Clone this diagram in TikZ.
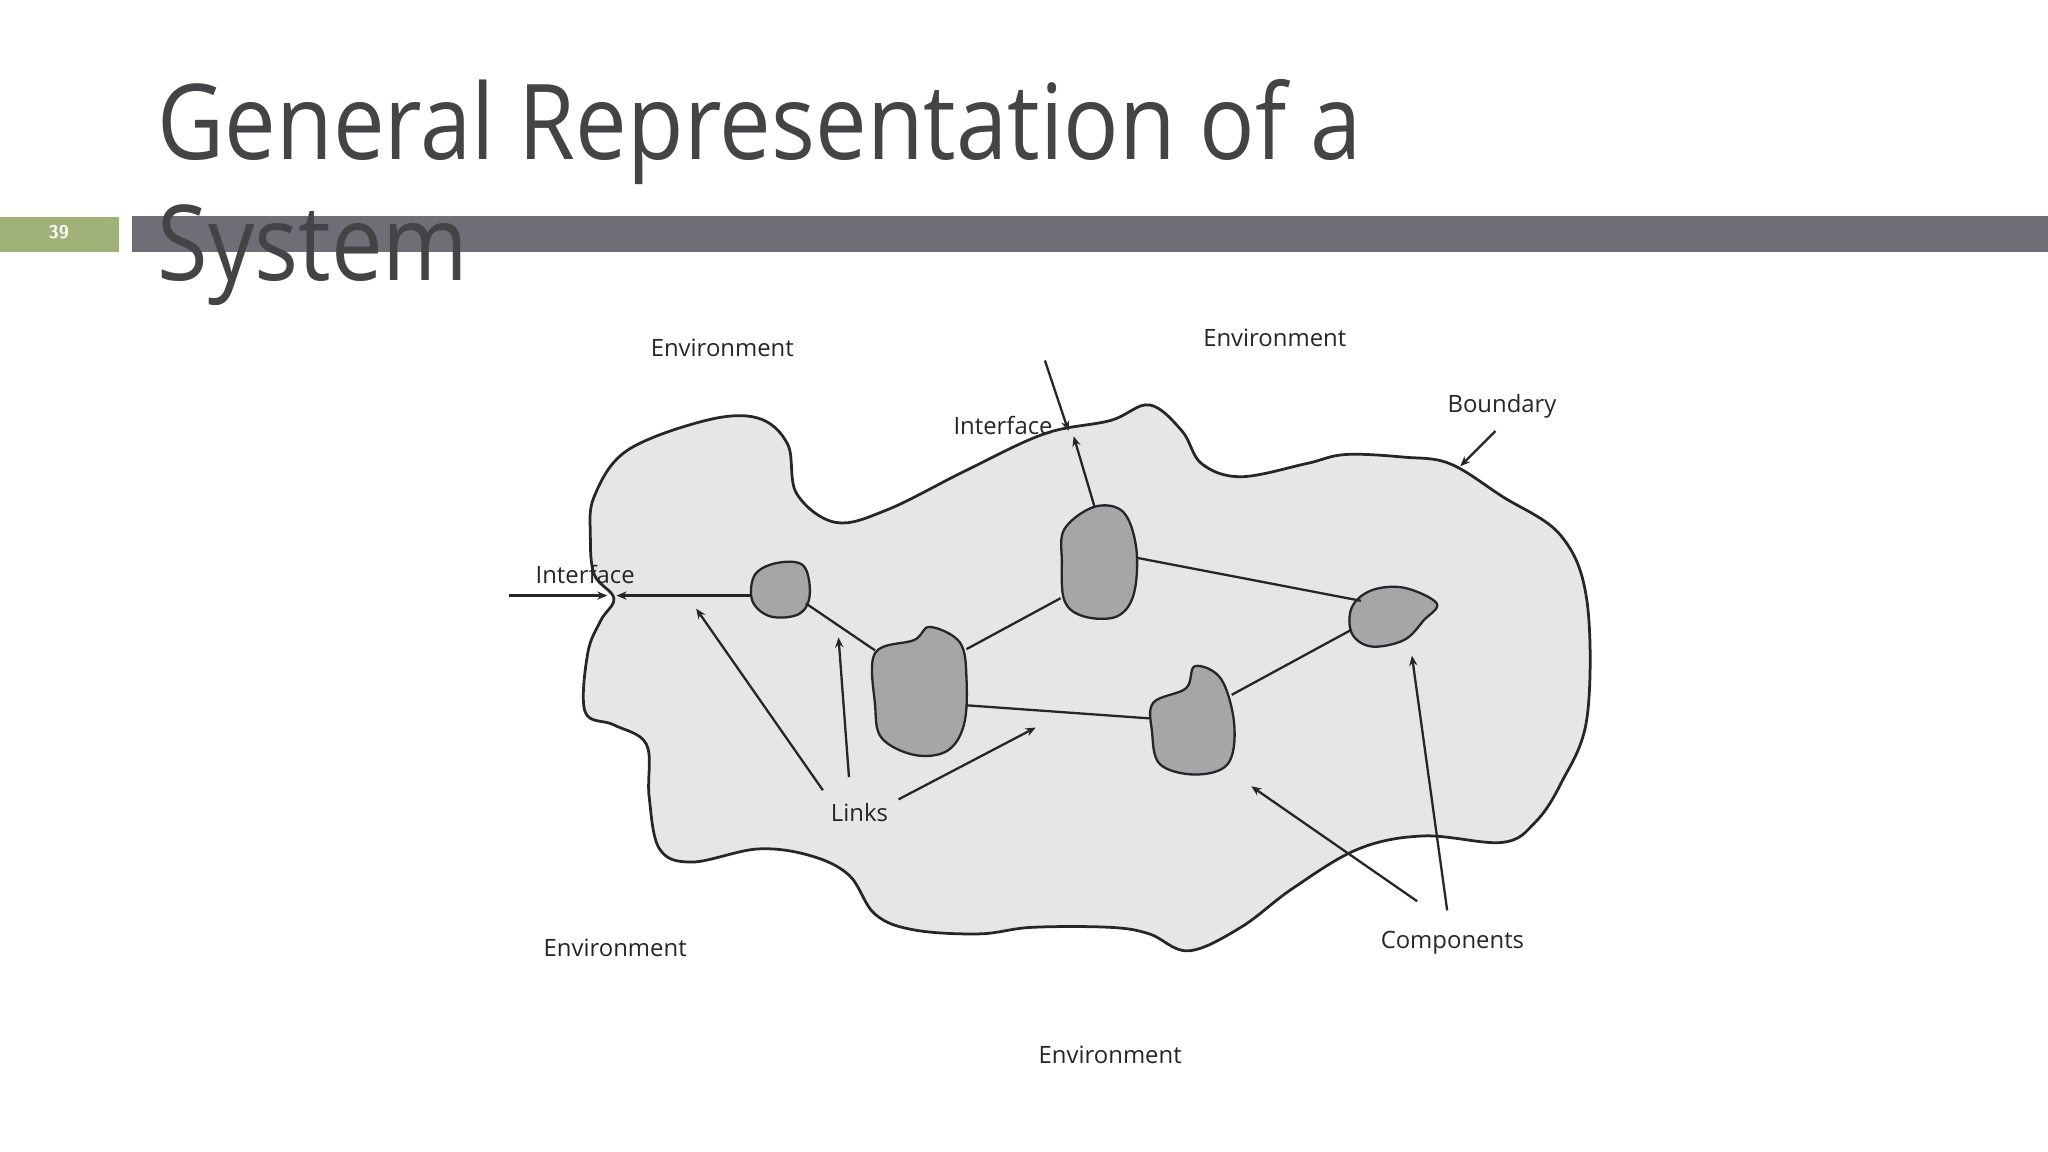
\documentclass[tikz,border=0pt]{standalone}
\usepackage{fontspec}
\setmainfont{Open Sans}
\definecolor{titlegray}{RGB}{68,68,70}
\definecolor{bargray}{RGB}{110,110,118}
\definecolor{numgreen}{RGB}{160,178,120}
\definecolor{blobfill}{RGB}{230,230,230}
\definecolor{compfill}{RGB}{166,166,168}
\tikzset{
 lbl/.style={font=\fontsize{5.2}{6}\selectfont, text=black!85, inner sep=0pt},
 comp/.style={draw=black!85, line width=0.5pt, fill=compfill},
 link/.style={draw=black!85, line width=0.5pt},
 arr/.style={draw=black!85, line width=0.5pt, -{Stealth[length=2.2pt,width=1.8pt]}},
}
\usetikzlibrary{arrows.meta}
\begin{document}
\begin{tikzpicture}[x=0.01cm,y=-0.01cm]
\useasboundingbox (0,0) rectangle (1568,882);
\fill[bargray] (101,165) rectangle (1568,193);
\fill[numgreen] (0,166) rectangle (91,193);
\node[text=white, font=\sffamily\bfseries\fontsize{4}{5}\selectfont] (num) at (45,178) {39};
\node[anchor=base west, inner sep=0pt, text=titlegray, font=\fontsize{22.8}{26}\selectfont] (t1) at (120,122) {\scalebox{0.88}[1]{General Representation of a}};
\node[anchor=base west, inner sep=0pt, text=titlegray, font=\fontsize{22.8}{26}\selectfont] (t2) at (120,215) {\scalebox{0.88}[1]{System}};
% boundary
\draw[fill=blobfill, draw=black!85, line width=0.6pt] plot[smooth cycle, tension=0.6] coordinates {
(455,380)(480,345)(540,322)(580,320)(603,340)(610,378)(640,400)(680,390)(740,360)(800,332)(850,322)(880,310)(905,330)(920,355)(950,365)(1000,355)(1030,348)(1075,350)(1110,355)(1150,380)(1195,410)(1215,460)(1215,550)(1195,600)(1175,630)(1150,645)(1090,640)(1040,650)(990,680)(950,710)(910,728)(880,715)(850,710)(790,710)(750,715)(700,712)(670,700)(650,670)(620,655)(580,650)(530,660)(505,650)(497,610)(495,570)(470,555)(448,545)(450,500)(460,475)(470,458)(455,440)(452,410)};
% components
\draw[comp] plot[smooth cycle, tension=0.6] coordinates {(578,440)(595,431)(615,433)(620,455)(612,470)(590,472)(576,460)};
\draw[comp] plot[smooth cycle, tension=0.6] coordinates {(670,500)(700,490)(712,480)(735,492)(740,520)(738,555)(725,575)(700,578)(675,565)(670,540)};
\draw[comp] plot[smooth cycle, tension=0.6] coordinates {(815,405)(838,388)(860,392)(870,420)(868,455)(855,472)(830,472)(815,460)(813,430)};
\draw[comp] plot[smooth cycle, tension=0.6] coordinates {(883,538)(908,527)(915,510)(935,520)(945,555)(940,585)(915,593)(888,585)(882,560)};
\draw[comp] plot[smooth cycle, tension=0.6] coordinates {(1035,465)(1050,452)(1075,450)(1100,462)(1090,475)(1075,490)(1050,495)(1035,485)};
% link endpoints
\coordinate (c1r) at (617,462); \coordinate (c2l) at (670,498);
\coordinate (c2t) at (740,497); \coordinate (c3l) at (812,458);
\coordinate (c3r) at (870,427); \coordinate (c5l) at (1042,460);
\coordinate (c4r) at (943,532); \coordinate (c5b) at (1035,482);
\coordinate (c2r) at (740,540); \coordinate (c4l) at (880,550);
\coordinate (c1l) at (575,456); \coordinate (ifl) at (472,456);
\coordinate (c3t) at (838,388); \coordinate (ift) at (822,334);
\draw[link] (c1r)--(c2l) (c2t)--(c3l) (c3r)--(c5l) (c4r)--(c5b) (c2r)--(c4l);
\draw[arr] (c1l)--(ifl);
\draw[arr] (c3t)--(ift);
\coordinate (ein) at (390,456); \coordinate (eint) at (465,456);
\draw[arr] (ein)--(eint);
\coordinate (etop) at (800,276); \coordinate (etopt) at (818,330);
\draw[arr] (etop)--(etopt);
% labels
\node[lbl] (env1) at (553,266) {Environment};
\node[lbl] (env2) at (976,259) {Environment};
\node[lbl] (env3) at (471,726) {Environment};
\node[lbl] (env4) at (850,808) {Environment};
\node[lbl] (bnd) at (1150,311) {Boundary};
\node[lbl] (if1) at (768,326) {Interface};
\node[lbl] (if2) at (448,440) {Interface};
\node[lbl] (links) at (658,622) {Links};
\node[lbl] (comps) at (1112,722) {Components};
\coordinate (bt) at (1118,357);
\draw[arr] (1145,330) coordinate (bs) -- (bt);
\draw[arr] (630,605) coordinate (l1) -- (533,466) coordinate (l1t);
\draw[arr] (650,595) coordinate (l2) -- (642,488) coordinate (l2t);
\draw[arr] (688,612) coordinate (l3) -- (793,557) coordinate (l3t);
\draw[arr] (1085,690) coordinate (k1) -- (958,602) coordinate (k1t);
\draw[arr] (1108,697) coordinate (k2) -- (1081,502) coordinate (k2t);
\end{tikzpicture}
\end{document}
